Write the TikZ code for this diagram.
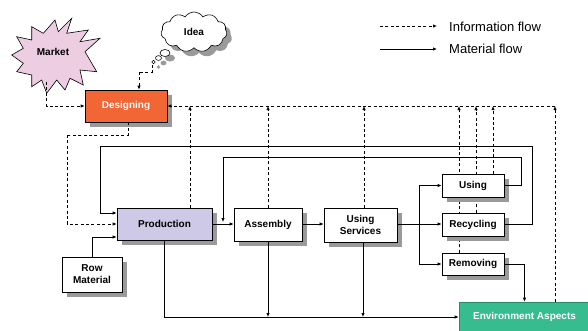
\documentclass[tikz,border=0pt]{standalone}
\usepackage{fontspec}
\setmainfont{Liberation Sans}
\usetikzlibrary{arrows.meta,shadows,shapes.symbols,calc}
\pgfdeclarelayer{background}
\pgfsetlayers{background,main}
\definecolor{orng}{HTML}{F26636}
\definecolor{lav}{HTML}{CDC9E6}
\definecolor{pinkm}{HTML}{EDCDE2}
\definecolor{grn}{HTML}{36BC8E}
\definecolor{shd}{HTML}{9A9A9C}
\begin{document}
\begin{tikzpicture}[x=1pt,y=-1pt,
  shdw/.style={drop shadow={shadow xshift=5pt,shadow yshift=-5pt,fill=shd,opacity=1}},
  box/.style={draw=black,line width=0.7pt,fill=white,inner sep=0pt,align=center,
    font=\bfseries\fontsize{10}{12}\selectfont,shdw},
  mat/.style={line width=0.7pt,-{Latex[length=4pt,width=3.4pt]}},
  matl/.style={line width=0.7pt},
  info/.style={line width=0.7pt,dash pattern=on 3pt off 2.4pt,-{Latex[length=4pt,width=3.4pt]}},
  infol/.style={line width=0.7pt,dash pattern=on 3pt off 2.4pt},
  legtxt/.style={anchor=west,inner sep=0pt,font=\fontsize{13}{15}\selectfont}]
\useasboundingbox (0,0) rectangle (588,330);

% Market starburst
\draw[line width=0.6pt,fill=pinkm] (71.7,18.3) -- (66.7,33.3) -- (88.3,30) -- (80,41.7) -- (100,38.3) -- (85,51.7) -- (96.7,71.7) -- (80,70) -- (83.3,85) -- (70,78.3) -- (65,90) -- (56.7,80) -- (46.7,93.3) -- (41.7,80) -- (31.7,86.7) -- (31.7,75) -- (16.7,71.7) -- (23.3,63.3) -- (11.7,55) -- (23.3,48.3) -- (16.7,36.7) -- (31.7,40) -- (31.7,26.7) -- (43.3,33.3) -- (55,20) -- (58.3,31.7) -- cycle;
\node[inner sep=0pt,font=\bfseries\fontsize{10}{12}\selectfont] (mkt) at (53,52) {Market};

% Idea cloud
\node[cloud,draw=black,line width=0.6pt,fill=white,cloud puffs=11,cloud puff arc=115,aspect=1.6,
  minimum width=66pt,minimum height=40pt,inner sep=0pt,shdw,
  font=\bfseries\fontsize{10}{12}\selectfont] (idea) at (194,32) {Idea};
\draw[line width=0.6pt,fill=white,shdw] (165,53) ellipse (5pt and 3.5pt);
\draw[line width=0.6pt,fill=white,shdw] (158.5,58) ellipse (3pt and 2.4pt);
\draw[line width=0.6pt,fill=white,shdw] (153.5,62) circle (1.8pt);

% boxes
\node[box,fill=orng,text=white,minimum width=82pt,minimum height=32pt] (des) at (126,106) {Designing};
\node[box,fill=lav,minimum width=95pt,minimum height=32pt] (prod) at (164.5,224) {Production};
\node[box,minimum width=68pt,minimum height=33pt] (asm) at (268,224.5) {Assembly};
\node[box,minimum width=73pt,minimum height=34pt] (usv) at (360.5,225) {Using\\Services};
\node[box,minimum width=62pt,minimum height=23pt] (use) at (473,185.5) {Using};
\node[box,minimum width=62pt,minimum height=23pt] (rec) at (473,224.5) {Recycling};
\node[box,minimum width=62pt,minimum height=22pt] (rem) at (473,264) {Removing};
\node[box,minimum width=60pt,minimum height=35pt] (row) at (92,274.5) {Row\\Material};
\node[draw=grn!75!black,line width=0.6pt,fill=grn,text=white,inner sep=0pt,
  font=\bfseries\fontsize{10}{12}\selectfont,minimum width=131pt,minimum height=30pt] (env) at (524.5,317) {Environment Aspects};

% coordinates
\coordinate (bus) at (555,106);
\coordinate (b1) at (190,106);
\coordinate (b3) at (364,106);
\coordinate (b4) at (459,106);
\coordinate (b5) at (476,106);
\coordinate (b6) at (493,106);
\coordinate (mktb) at (46.5,82);
\coordinate (ideab) at (152,65);
\coordinate (ideac) at (139,72);
\coordinate (desd) at (67,135);
\coordinate (br) at (419,224);
\coordinate (uR) at (521,157);
\coordinate (j1) at (223,222);
\coordinate (rR) at (532,146);
\coordinate (pin1) at (100,213);
\coordinate (pin2) at (92,237);
\coordinate (usvb) at (363,242);
\coordinate (l1a) at (380,26);
\coordinate (l1b) at (437,26);
\coordinate (l2a) at (380,49);
\coordinate (l2b) at (437,49);

% information flow
\draw[info] (mktb) |- (des.west);
\draw[infol] (ideab) |- (ideac);
\draw[info] (ideac) -- (ideac |- des.north);
\draw[infol] ([xshift=2pt]des.south) |- (desd);
\draw[info] (desd) |- (prod.west);
\draw[info] (bus) -- (des.east);
\draw[info] (prod.north -| b1) -- (b1);
\draw[info] (asm.north) -- (asm.north |- bus);
\draw[info] (usv.north -| b3) -- (b3);
\begin{pgfonlayer}{background}
\draw[info] (rem.north -| b4) -- (b4);
\draw[info] (rec.north -| b5) -- (b5);
\end{pgfonlayer}
\draw[info] (use.north -| b6) -- (b6);
\draw[info] (env.north -| bus) -- (bus);

% material flow
\draw[mat] (prod.east) -- (prod.east -| asm.west);
\draw[mat] (asm.east |- prod.east) -- (prod.east -| usv.west);
\draw[matl] (usv.east |- br) -- (br);
\draw[mat] (br) -- (br -| rec.west);
\draw[mat] (br) |- (use.west);
\draw[mat] (br) |- (rem.west);
\draw[mat] (use.east) -| (uR) -| (j1);
\draw[mat] (rec.east) -| (rR) -| (pin1) -- (pin1 -| prod.west);
\draw[mat] (row.north) -- (pin2) -- (pin2 -| prod.west);
\draw[mat] (prod.south) |- (env.west);
\draw[mat] (asm.south) -- (asm.south |- env.west);
\draw[mat] (usvb) -- (usvb |- env.west);
\draw[mat] (rem.east) -| (env.north);

% legend
\draw[info] (l1a) -- (l1b);
\node[legtxt] (lt1) at (449,27) {Information flow};
\draw[mat] (l2a) -- (l2b);
\node[legtxt] (lt2) at (449,48.5) {Material flow};
\end{tikzpicture}
\end{document}
